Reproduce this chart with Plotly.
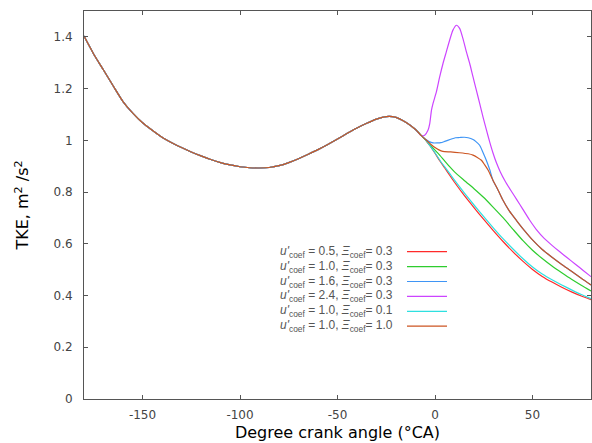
import plotly.graph_objects as go

# ---------------- data ----------------
common_x = [-180, -175, -170, -165, -160, -155, -150, -145, -140, -135, -130, -125, -120,
            -115, -110, -105, -100, -95, -90, -85, -80, -75, -70, -65, -60, -55, -50,
            -45, -40, -35, -30, -25, -20, -15, -10, -7]
common_y = [1.403, 1.333, 1.272, 1.210, 1.150, 1.105, 1.068, 1.039, 1.012, 0.991, 0.972, 0.955, 0.940,
            0.926, 0.914, 0.905, 0.898, 0.894, 0.893, 0.895, 0.902, 0.914, 0.929, 0.946, 0.964, 0.984, 1.005,
            1.027, 1.048, 1.066, 1.082, 1.092, 1.089, 1.070, 1.042, 1.018]

fan_x = [-5, -2.5, 0, 2.5, 5, 7.5, 10, 15, 20, 25, 30, 35, 40, 45, 50, 55, 60, 65, 70, 75, 80]
red_y = [1.003, 0.978, 0.950, 0.920, 0.893, 0.865, 0.838, 0.787, 0.740, 0.694, 0.650, 0.608,
         0.569, 0.533, 0.501, 0.474, 0.452, 0.432, 0.414, 0.398, 0.384]
cyan_y = [1.003, 0.979, 0.952, 0.923, 0.897, 0.872, 0.846, 0.797, 0.750, 0.705, 0.661, 0.619,
          0.580, 0.543, 0.510, 0.483, 0.461, 0.441, 0.422, 0.404, 0.388]
green_y = [1.003, 0.982, 0.962, 0.942, 0.920, 0.898, 0.878, 0.845, 0.813, 0.779, 0.740, 0.700,
           0.656, 0.613, 0.575, 0.543, 0.514, 0.488, 0.463, 0.440, 0.418]

orange_x = [-5, -2.5, 0, 2, 4, 8, 12.5, 17, 19.5, 21.5, 23.8, 25.5, 27.2, 29.7, 32.3, 34.8,
            38, 42, 46, 50, 55, 60, 65, 70, 75, 80]
orange_y = [1.004, 0.987, 0.972, 0.963, 0.957, 0.955, 0.952, 0.948, 0.943, 0.935, 0.923, 0.905,
            0.885, 0.846, 0.808, 0.769, 0.728, 0.688, 0.650, 0.615, 0.578, 0.548, 0.520, 0.494,
            0.467, 0.441]

blue_x = [-5, -3, -1, 1, 3, 5, 8, 10.5, 12.6, 15, 17, 19.5, 21, 22.9, 24.5, 26.3, 28, 29.7,
          32.3, 34.8, 38, 42, 46, 50, 55, 60, 65, 70, 75, 80]
blue_y = [1.005, 0.995, 0.990, 0.990, 0.991, 0.996, 1.004, 1.010, 1.011, 1.012, 1.010, 1.003,
          0.995, 0.981, 0.955, 0.923, 0.888, 0.846, 0.808, 0.769, 0.728, 0.688, 0.650, 0.615,
          0.578, 0.548, 0.520, 0.494, 0.467, 0.441]

magenta_x = [-5.3, -3.6, -2.7, -1.8, -1.0, 0.7, 2.4, 4.1, 5.8, 7.5, 9.2, 11.0, 12.7, 14.3, 16.1,
             17.8, 19.5, 21.2, 22.9, 24.6, 26.3, 28, 29.7, 31.5, 33.5, 36, 39, 42, 45, 48.5, 52,
             56, 60, 64, 68, 72, 76, 80]
magenta_y = [1.020, 1.039, 1.065, 1.117, 1.143, 1.187, 1.245, 1.297, 1.342, 1.387, 1.426, 1.445,
             1.432, 1.394, 1.342, 1.297, 1.245, 1.194, 1.143, 1.091, 1.042, 0.995, 0.952, 0.913,
             0.878, 0.842, 0.805, 0.770, 0.734, 0.692, 0.655, 0.621, 0.594, 0.569, 0.545, 0.521,
             0.497, 0.473]

series_labels = [
    "<i>u'</i><sub>coef</sub> = 0.5, <i>Ξ</i><sub>coef</sub>= 0.3",
    "<i>u'</i><sub>coef</sub> = 1.0, <i>Ξ</i><sub>coef</sub>= 0.3",
    "<i>u'</i><sub>coef</sub> = 1.6, <i>Ξ</i><sub>coef</sub>= 0.3",
    "<i>u'</i><sub>coef</sub> = 2.4, <i>Ξ</i><sub>coef</sub>= 0.3",
    "<i>u'</i><sub>coef</sub> = 1.0, <i>Ξ</i><sub>coef</sub>= 0.1",
    "<i>u'</i><sub>coef</sub> = 1.0, <i>Ξ</i><sub>coef</sub>= 1.0",
]
series_colors = ["#ff2a2a", "#2ecc2e", "#3f95f5", "#cc44ff", "#2ee0e0", "#cc5522"]
series_x = [fan_x, fan_x, blue_x, magenta_x, fan_x, orange_x]
series_y = [red_y, green_y, blue_y, magenta_y, cyan_y, orange_y]

x_ticks = [-150, -100, -50, 0, 50]
x_ticktext = ["-150", "-100", "-50", "0", "50"]
y_ticks = [0, 0.2, 0.4, 0.6, 0.8, 1.0, 1.2, 1.4]
y_ticktext = ["0", "0.2", "0.4", "0.6", "0.8", "1", "1.2", "1.4"]

# ---------------- figure ----------------
fig = go.Figure()
for lab, col, sx, sy in zip(series_labels, series_colors, series_x, series_y):
    fig.add_trace(go.Scatter(
        x=common_x + sx, y=common_y + sy, mode="lines", name=lab,
        line=dict(color=col, width=1.2, shape="spline", smoothing=0.6),
        showlegend=False,
    ))

# hand-made legend (text on the left, line sample on the right)
W, H = 592, 443
L, R, T, B = 84, 1, 11, 44
pw, ph = W - L - R, H - T - B
def px2paper_x(px):
    return (px - L) / pw
def px2paper_y(py):
    return (H - B - py) / ph

annotations = []
shapes = []
row0, row_step = 251.7, 14.9
for i, (lab, col) in enumerate(zip(series_labels, series_colors)):
    yy = px2paper_y(row0 + row_step * i)
    annotations.append(dict(
        text=lab, x=px2paper_x(395), y=yy, xref="paper", yref="paper",
        xanchor="right", yanchor="middle", showarrow=False,
        font=dict(family="Liberation Sans", size=12, color="#555555"),
    ))
    shapes.append(dict(
        type="line", xref="paper", yref="paper",
        x0=px2paper_x(407), x1=px2paper_x(447), y0=yy, y1=yy,
        line=dict(color=col, width=1.2),
    ))

axis_common = dict(
    showgrid=False, zeroline=False, showline=True, linecolor="#555555", linewidth=1,
    mirror="ticks", ticks="inside", ticklen=4, tickcolor="#555555", tickwidth=1,
    tickfont=dict(family="DejaVu Sans", size=12, color="#444444"),
)

fig.update_layout(
    width=W, height=H,
    margin=dict(l=L, r=R, t=T, b=B),
    paper_bgcolor="white", plot_bgcolor="white",
    font=dict(family="DejaVu Sans"),
    xaxis=dict(range=[-180, 80], tickvals=x_ticks, ticktext=x_ticktext, ticklabelstandoff=5,
               title=dict(text="Degree crank angle (°CA)",
                          font=dict(family="DejaVu Sans", size=16, color="black"),
                          standoff=5),
               **axis_common),
    yaxis=dict(range=[0, 1.5], tickvals=y_ticks, ticktext=y_ticktext, ticklabelstandoff=8,
               title=dict(text="TKE, m<sup>2</sup> /s<sup>2</sup>",
                          font=dict(family="DejaVu Sans", size=16, color="black"),
                          standoff=20),
               **axis_common),
    annotations=annotations,
    shapes=shapes,
    showlegend=False,
)

fig.write_html("out.html")
